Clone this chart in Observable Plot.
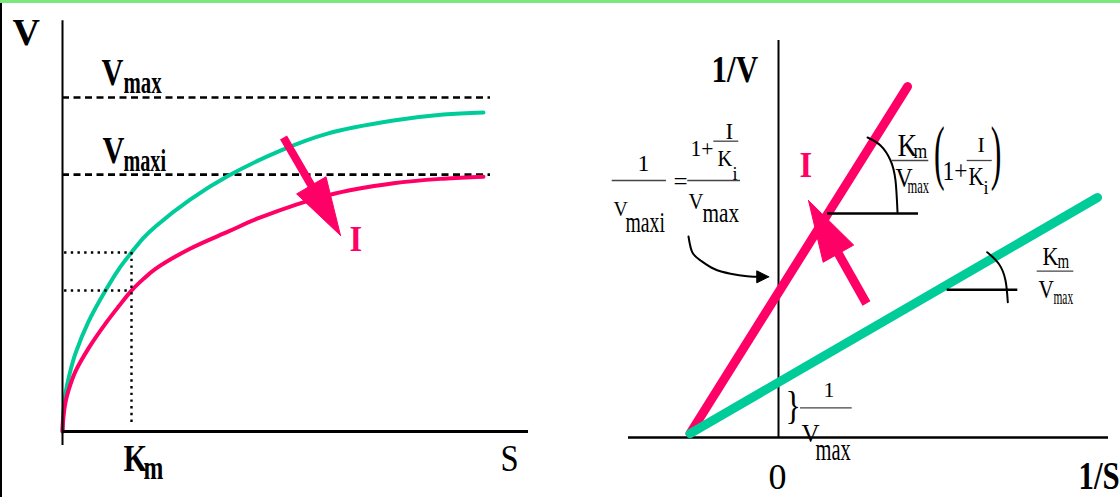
<!DOCTYPE html>
<html>
<head>
<meta charset="utf-8">
<script src="https://cdn.jsdelivr.net/npm/d3@7"></script>
<script src="https://cdn.jsdelivr.net/npm/@observablehq/plot@0.6"></script>
<style>
  html, body { margin: 0; padding: 0; background: #fff; }
  #chart { position: relative; width: 1120px; height: 497px; overflow: hidden; background: #fff; }
  #chart svg { position: absolute; left: 0; top: 0; }
  #chart .edge-top { position: absolute; z-index: 2; left: 0; top: 0; width: 1120px; height: 3px; background: #7ae87a; }
  #chart .edge-left { position: absolute; z-index: 2; left: 0; top: 3px; width: 2px; height: 494px; background: #000; }
</style>
</head>
<body>
<div id="chart"><div class="edge-top"></div><div class="edge-left"></div></div>
<script>
const W = 1120, H = 497;
const PINK = "#ff0066", GREEN = "#00cc99";
const SERIF = "'Liberation Serif', 'Times New Roman', Times, serif";

// ---------- Michaelis–Menten panel (S in units of Km, V in units of Vmax) ----------
const sUninhibited = [0, 0.014, 0.043, 0.116, 0.188, 0.377, 0.623, 0.812, 1.0, 1.174, 1.348, 1.855, 2.391, 3.159, 3.841, 4.797, 5.522, 6.101];
const vUninhibited = [0, 0.063, 0.114, 0.183, 0.234, 0.329, 0.422, 0.485, 0.536, 0.580, 0.614, 0.695, 0.764, 0.841, 0.892, 0.931, 0.949, 0.955];
const sInhibited = [0, 0.014, 0.043, 0.087, 0.188, 0.377, 0.623, 0.812, 1.0, 1.174, 1.348, 1.855, 2.406, 2.870, 3.841, 4.797, 5.522, 6.101];
const vInhibited = [0, 0.045, 0.087, 0.123, 0.180, 0.249, 0.323, 0.374, 0.422, 0.457, 0.487, 0.548, 0.599, 0.641, 0.707, 0.743, 0.757, 0.763];
const vmax = 1, vmaxInhibited = 0.769;
const km = 1;
const vAtKm = [0.536, 0.422];          // uninhibited, inhibited
const sAxisEnd = 6.754, vAxisTop = 1.23, vAxisBottom = -0.042, sLevelEnd = 6.203;

// ---------- Lineweaver–Burk panel (1/S in units of 1/Km, 1/V in units of 1/Vmax) ----------
const invSUninhibited = [-1, 3.605];
const invVUninhibited = [0.07, 4.324];
const invSInhibited = [-1, 1.458];
const invVInhibited = [0.07, 6.324];
const invSAxis = [-1.695, 3.729];
const invVAxisTop = 7.153;

const zip = (xs, ys) => xs.map((x, i) => ({x, y: ys[i]}));

// Filled arrow head computed in screen space, returned in data space.
function arrow(a, sx, sy, headLen, halfW) {
  const x1 = sx(a.x1), y1 = sy(a.y1), x2 = sx(a.x2), y2 = sy(a.y2);
  const L = Math.hypot(x2 - x1, y2 - y1), ux = (x2 - x1) / L, uy = (y2 - y1) / L;
  const bx = x2 - ux * headLen, by = y2 - uy * headLen;
  const pts = [[x2, y2], [bx - uy * halfW, by + ux * halfW], [bx + uy * halfW, by - ux * halfW], [x2, y2]];
  return {
    head: pts.map(([px, py]) => ({x: sx.invert(px), y: sy.invert(py)})),
    shaft: [{x1: a.x1, y1: a.y1, x2: sx.invert(bx + ux * 3), y2: sy.invert(by + uy * 3)}]
  };
}

function textMark(items, name, fill = "#000", weight = "normal") {
  return Plot.text(items, {
    x: "x", y: "y", text: "t", fontSize: d => d.size,
    textAnchor: "start", lineAnchor: "bottom",
    fill, fontWeight: weight, fontFamily: SERIF,
    ariaDescription: name, className: name
  });
}

// Narrow the serif glyphs horizontally, label by label.
function condense(svg, name, items) {
  svg.querySelectorAll(`g[aria-description="${name}"] text, g.${name} text`).forEach((el, i) => {
    const s = items[i] && items[i].sx;
    if (s && s !== 1) el.setAttribute("transform", (el.getAttribute("transform") || "") + ` scale(${s},1)`);
  });
}

// ---------------- left panel ----------------
const xL = d3.scaleLinear([0, 1], [62, 131]);
const yL = d3.scaleLinear([0, 1], [431, 97]);

const leftBold = [
  {t: "V", x: -0.725, y: 1.156, size: 38, sx: 1},
  {t: "V", x: 0.565, y: 1.036, size: 38, sx: 0.8},
  {t: "max", x: 0.884, y: 1.012, size: 32, sx: 0.65},
  {t: "V", x: 0.580, y: 0.805, size: 38, sx: 0.8},
  {t: "maxi", x: 0.884, y: 0.781, size: 32, sx: 0.63},
  {t: "K", x: 0.884, y: -0.117, size: 38, sx: 0.8},
  {t: "m", x: 1.174, y: -0.141, size: 34, sx: 0.7}
];
const leftRegular = [{t: "S", x: 6.348, y: -0.117, size: 38, sx: 0.86}];
const leftPink = [{t: "I", x: 4.159, y: 0.539, size: 36, sx: 0.9}];
const leftArrow = arrow({x1: 3.203, y1: 0.880, x2: 4.029, y2: 0.587}, xL, yL, 58, 17);

const left = Plot.plot({
  width: W, height: H, margin: 0,
  x: {domain: [0, 1], range: [62, 131], axis: null},
  y: {domain: [0, 1], range: [431, 97], axis: null},
  style: {background: "transparent", overflow: "visible"},
  marks: [
    Plot.ruleY([vmax, vmaxInhibited], {x1: 0, x2: sLevelEnd, stroke: "#000", strokeWidth: 2.6, strokeDasharray: "7,4.5"}),
    Plot.line(zip(sUninhibited, vUninhibited), {x: "x", y: "y", stroke: GREEN, strokeWidth: 4, curve: "catmull-rom"}),
    Plot.line(zip(sInhibited, vInhibited), {x: "x", y: "y", stroke: PINK, strokeWidth: 4, curve: "catmull-rom"}),
    Plot.ruleY(vAtKm, {x1: 0.03, x2: km, stroke: "#000", strokeWidth: 2.4, strokeDasharray: "2.4,4.3"}),
    Plot.ruleX([km], {y1: vAtKm[0], y2: 0.024, stroke: "#000", strokeWidth: 2.4, strokeDasharray: "2.4,4.3"}),
    Plot.ruleX([0], {y1: vAxisBottom, y2: vAxisTop, stroke: "#000", strokeWidth: 2}),
    Plot.ruleY([0], {x1: 0, x2: sAxisEnd, stroke: "#000", strokeWidth: 2.8}),
    Plot.link(leftArrow.shaft, {x1: "x1", y1: "y1", x2: "x2", y2: "y2", stroke: PINK, strokeWidth: 8}),
    Plot.line(leftArrow.head, {x: "x", y: "y", fill: PINK, stroke: PINK, strokeWidth: 1}),
    textMark(leftBold, "left-bold", "#000", "bold"),
    textMark(leftRegular, "left-regular"),
    textMark(leftPink, "left-pink", PINK, "bold")
  ]
});
condense(left, "left-bold", leftBold);
condense(left, "left-regular", leftRegular);
condense(left, "left-pink", leftPink);

// ---------------- right panel ----------------
const xR = d3.scaleLinear([-1, 0], [689.5, 778]);
const yR = d3.scaleLinear([0, 1], [437, 381.5]);

const slopeRefs = [
  {y: 4.036, x1: 0.554, x2: 1.582},
  {y: 2.661, x1: 1.906, x2: 2.704}
];
const inhibitedArc = zip([1.006, 1.153, 1.266, 1.322, 1.345], [5.405, 5.261, 4.991, 4.631, 4.054]);
const uninhibitedArc = zip([2.358, 2.489, 2.565, 2.591], [3.339, 3.130, 2.829, 2.438]);
const pointerPath = zip(
  [-1.017, -0.975, -0.881, -0.731, -0.542, -0.354, -0.184],
  [3.622, 3.339, 3.189, 3.040, 2.950, 2.906, 2.895]
);
const pointerHead = arrow({x1: -0.30, y1: 2.895, x2: -0.110, y2: 2.895}, xR, yR, 12, 6);
const rightArrow = arrow({x1: 0.994, y1: 2.414, x2: 0.339, y2: 4.270}, xR, yR, 61, 17.5);

const fractionBars = [
  {y: 4.991, x1: 1.285, x2: 1.698},
  {y: 4.991, x1: 2.132, x2: 2.415},
  {y: 2.996, x1: 2.923, x2: 3.337},
  {y: 4.631, x1: -1.879, x2: -1.266},
  {y: 4.631, x1: -1.025, x2: -0.429},
  {y: 5.339, x1: -0.731, x2: -0.449},
  {y: 0.535, x1: 0.249, x2: 0.833}
];

const rightBold = [
  {t: "1/V", x: -0.757, y: 6.414, size: 38, sx: 0.82},
  {t: "1/S", x: 3.390, y: -0.919, size: 40, sx: 0.77}
];
const rightPink = [{t: "I", x: 0.237, y: 4.685, size: 36, sx: 0.9}];
const rightRegular = [
  {t: "0", x: -0.113, y: -0.919, size: 36},
  // slope of the inhibited line
  {t: "K", x: 1.345, y: 5.081, size: 32, sx: 0.85},
  {t: "m", x: 1.525, y: 5.045, size: 22, sx: 0.8},
  {t: "V", x: 1.322, y: 4.505, size: 28, sx: 0.85},
  {t: "max", x: 1.458, y: 4.414, size: 22, sx: 0.57},
  {t: "(", x: 1.757, y: 4.703, size: 71, sx: 0.45},
  {t: "1+", x: 1.853, y: 4.631, size: 28, sx: 0.84},
  {t: "I", x: 2.249, y: 5.141, size: 22},
  {t: "K", x: 2.147, y: 4.541, size: 25, sx: 0.85},
  {t: "i", x: 2.316, y: 4.396, size: 18},
  {t: ")", x: 2.399, y: 4.703, size: 71, sx: 0.45},
  // slope of the uninhibited line
  {t: "K", x: 2.983, y: 3.117, size: 26, sx: 0.85},
  {t: "m", x: 3.153, y: 3.063, size: 20, sx: 0.75},
  {t: "V", x: 2.938, y: 2.505, size: 25, sx: 0.85},
  {t: "max", x: 3.107, y: 2.414, size: 20, sx: 0.57},
  // intercept of the inhibited line
  {t: "1", x: -1.593, y: 4.793, size: 24},
  {t: "V", x: -1.864, y: 4.0, size: 22, sx: 0.9},
  {t: "maxi", x: -1.729, y: 3.699, size: 29, sx: 0.68},
  {t: "=", x: -1.186, y: 4.468, size: 25},
  {t: "1+", x: -0.994, y: 5.081, size: 24, sx: 0.9},
  {t: "I", x: -0.599, y: 5.378, size: 23},
  {t: "K", x: -0.689, y: 4.883, size: 24, sx: 0.85},
  {t: "i", x: -0.520, y: 4.631, size: 18},
  {t: "V", x: -1.017, y: 4.126, size: 23, sx: 0.9},
  {t: "max", x: -0.859, y: 3.874, size: 28, sx: 0.76},
  // intercept of the uninhibited line
  {t: "}", x: 0.079, y: 0.342, size: 40, sx: 0.8},
  {t: "1", x: 0.508, y: 0.721, size: 22},
  {t: "V", x: 0.260, y: -0.090, size: 25},
  {t: "max", x: 0.418, y: -0.414, size: 32, sx: 0.64}
];

const right = Plot.plot({
  width: W, height: H, margin: 0,
  x: {domain: [-1, 0], range: [689.5, 778], axis: null},
  y: {domain: [0, 1], range: [437, 381.5], axis: null},
  style: {background: "transparent", overflow: "visible"},
  marks: [
    Plot.ruleX([0], {y1: 0, y2: invVAxisTop, stroke: "#000", strokeWidth: 2}),
    Plot.ruleY([0], {x1: invSAxis[0], x2: invSAxis[1], stroke: "#000", strokeWidth: 2.5}),
    Plot.line(zip(invSInhibited, invVInhibited), {x: "x", y: "y", stroke: PINK, strokeWidth: 9}),
    Plot.line(zip(invSUninhibited, invVUninhibited), {x: "x", y: "y", stroke: GREEN, strokeWidth: 9}),
    Plot.link(rightArrow.shaft, {x1: "x1", y1: "y1", x2: "x2", y2: "y2", stroke: PINK, strokeWidth: 9}),
    Plot.line(rightArrow.head, {x: "x", y: "y", fill: PINK, stroke: PINK, strokeWidth: 1}),
    Plot.ruleY(slopeRefs, {y: "y", x1: "x1", x2: "x2", stroke: "#000", strokeWidth: 2.5}),
    Plot.line(inhibitedArc, {x: "x", y: "y", stroke: "#000", strokeWidth: 2, curve: "natural"}),
    Plot.line(uninhibitedArc, {x: "x", y: "y", stroke: "#000", strokeWidth: 2, curve: "natural"}),
    Plot.line(pointerPath, {x: "x", y: "y", stroke: "#000", strokeWidth: 2, curve: "natural"}),
    Plot.line(pointerHead.head, {x: "x", y: "y", fill: "#000", stroke: "#000", strokeWidth: 1}),
    Plot.ruleY(fractionBars, {y: "y", x1: "x1", x2: "x2", stroke: "#444", strokeWidth: 1.3}),
    textMark(rightBold, "right-bold", "#000", "bold"),
    textMark(rightPink, "right-pink", PINK, "bold"),
    textMark(rightRegular, "right-regular")
  ]
});
condense(right, "right-bold", rightBold);
condense(right, "right-pink", rightPink);
condense(right, "right-regular", rightRegular);

const chart = document.getElementById("chart");
chart.insertBefore(right, chart.firstChild);
chart.insertBefore(left, chart.firstChild);
</script>
</body>
</html>
